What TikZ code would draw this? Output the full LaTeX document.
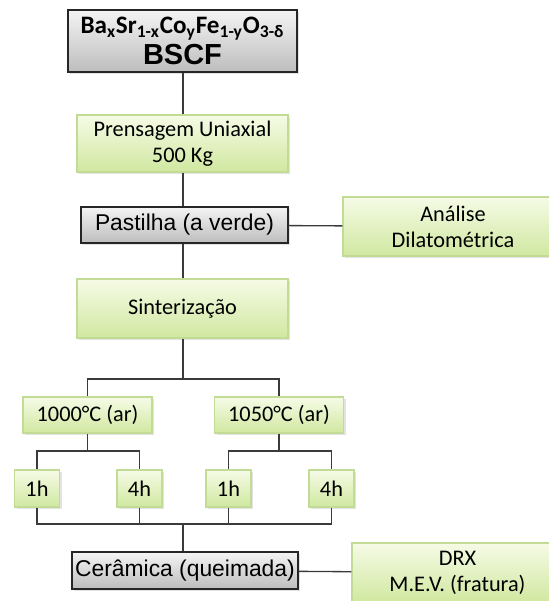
\documentclass[tikz,border=0pt]{standalone}
\usepackage{fontspec}
\setmainfont{Carlito}
\newfontfamily\arialfont{Liberation Sans}
\usepackage{tikz}
\usetikzlibrary{positioning, shadows}

\definecolor{greentop}{HTML}{F6FBE6}
\definecolor{greenbot}{HTML}{D0E8A0}
\definecolor{greenline}{HTML}{C2DC98}
\definecolor{graytop}{HTML}{F4F4F4}
\definecolor{graybot}{HTML}{BDBDBD}
\definecolor{wire}{HTML}{3A3A3A}

\begin{document}
\begin{tikzpicture}[
  x=0.02cm, y=-0.02cm,
  dims/.style 2 args={minimum width=#1*0.02cm, minimum height=#2*0.02cm},
  block/.style={rectangle, inner sep=0pt, align=center,
                drop shadow={shadow xshift=1.2pt, shadow yshift=-1.2pt, opacity=0.22}},
  sample/.style={block, draw=black!85, line width=0.6pt,
                 top color=graytop, bottom color=graybot,
                 font=\arialfont\fontsize{13}{15}\selectfont},
  process/.style={block, draw=greenline, line width=0.6pt,
                  top color=greentop, bottom color=greenbot,
                  font=\fontsize{12.7}{14.7}\selectfont},
  line/.style={draw=wire, line width=0.75pt},
]
\useasboundingbox (0,0) rectangle (548,601);

%% Material
\node[sample, dims={229}{62},
      font=\bfseries\fontsize{14.3}{17.5}\selectfont] (bscf) at (182.5,41)
  {Ba\textsubscript{x}Sr\textsubscript{1-x}Co\textsubscript{y}Fe\textsubscript{1-y}O\textsubscript{3-δ}\\
   {\arialfont\fontsize{16.5}{17.5}\selectfont BSCF}};

%% Pressing and green pellet
\node[process, dims={211}{57}] (prens) at (182.5,143.5)
  {Prensagem Uniaxial\\500 Kg};
\node[sample, dims={207}{36}] (pastilha) at (184.5,225)
  {Pastilha (a verde)};
\node[process, dims={220}{59}] (dilat) at (453,226.5)
  {Análise\\Dilatométrica};

%% Sintering
\node[process, dims={211}{59}] (sinter) at (182.5,308.5)
  {Sinterização};
\node[process, dims={129}{36}] (t1000) at (87.5,415)
  {1000°C (ar)};
\node[process, dims={129}{36}] (t1050) at (279,415)
  {1050°C (ar)};

%% Dwell times
\node[process, dims={45}{37}] (h1a) at (37,488.5) {1h};
\node[process, dims={45}{37}] (h4a) at (139.5,488.5) {4h};
\node[process, dims={45}{37}] (h1b) at (228.5,488.5) {1h};
\node[process, dims={45}{37}] (h4b) at (331.5,488.5) {4h};

%% Fired ceramic
\node[sample, dims={226}{37}] (ceram) at (185,570.5)
  {Cerâmica (queimada)};
\node[process, dims={211}{59}] (drx) at (457.5,572.5)
  {DRX\\M.E.V. (fratura)};

%% Branch points
\coordinate (j1) at (183,379);
\coordinate (j2) at (87.5,451);
\coordinate (j3) at (279,451);
\coordinate (j4) at (183,524);

%% Connections
\draw[line] (bscf.south -| j1) -- (prens.north -| j1);
\draw[line] (prens.south -| j1) -- (pastilha.north -| j1);
\draw[line] (pastilha) -- (dilat);
\draw[line] (pastilha.south -| j1) -- (sinter.north -| j1);
\draw[line] (sinter.south -| j1) -- (j1);
\draw[line] (t1000) |- (j1) -| (t1050);
\draw[line] (t1000) -- (j2);
\draw[line] (h1a) |- (j2) -| (h4a);
\draw[line] (t1050) -- (j3);
\draw[line] (h1b) |- (j3) -| (h4b);
\draw[line] (h1a) |- (j4) -| (h4b);
\draw[line] (h4a) -- (h4a |- j4);
\draw[line] (h1b) -- (h1b |- j4);
\draw[line] (j4) -- (ceram.north -| j4);
\draw[line] (ceram) -- (drx);

\end{tikzpicture}
\end{document}
